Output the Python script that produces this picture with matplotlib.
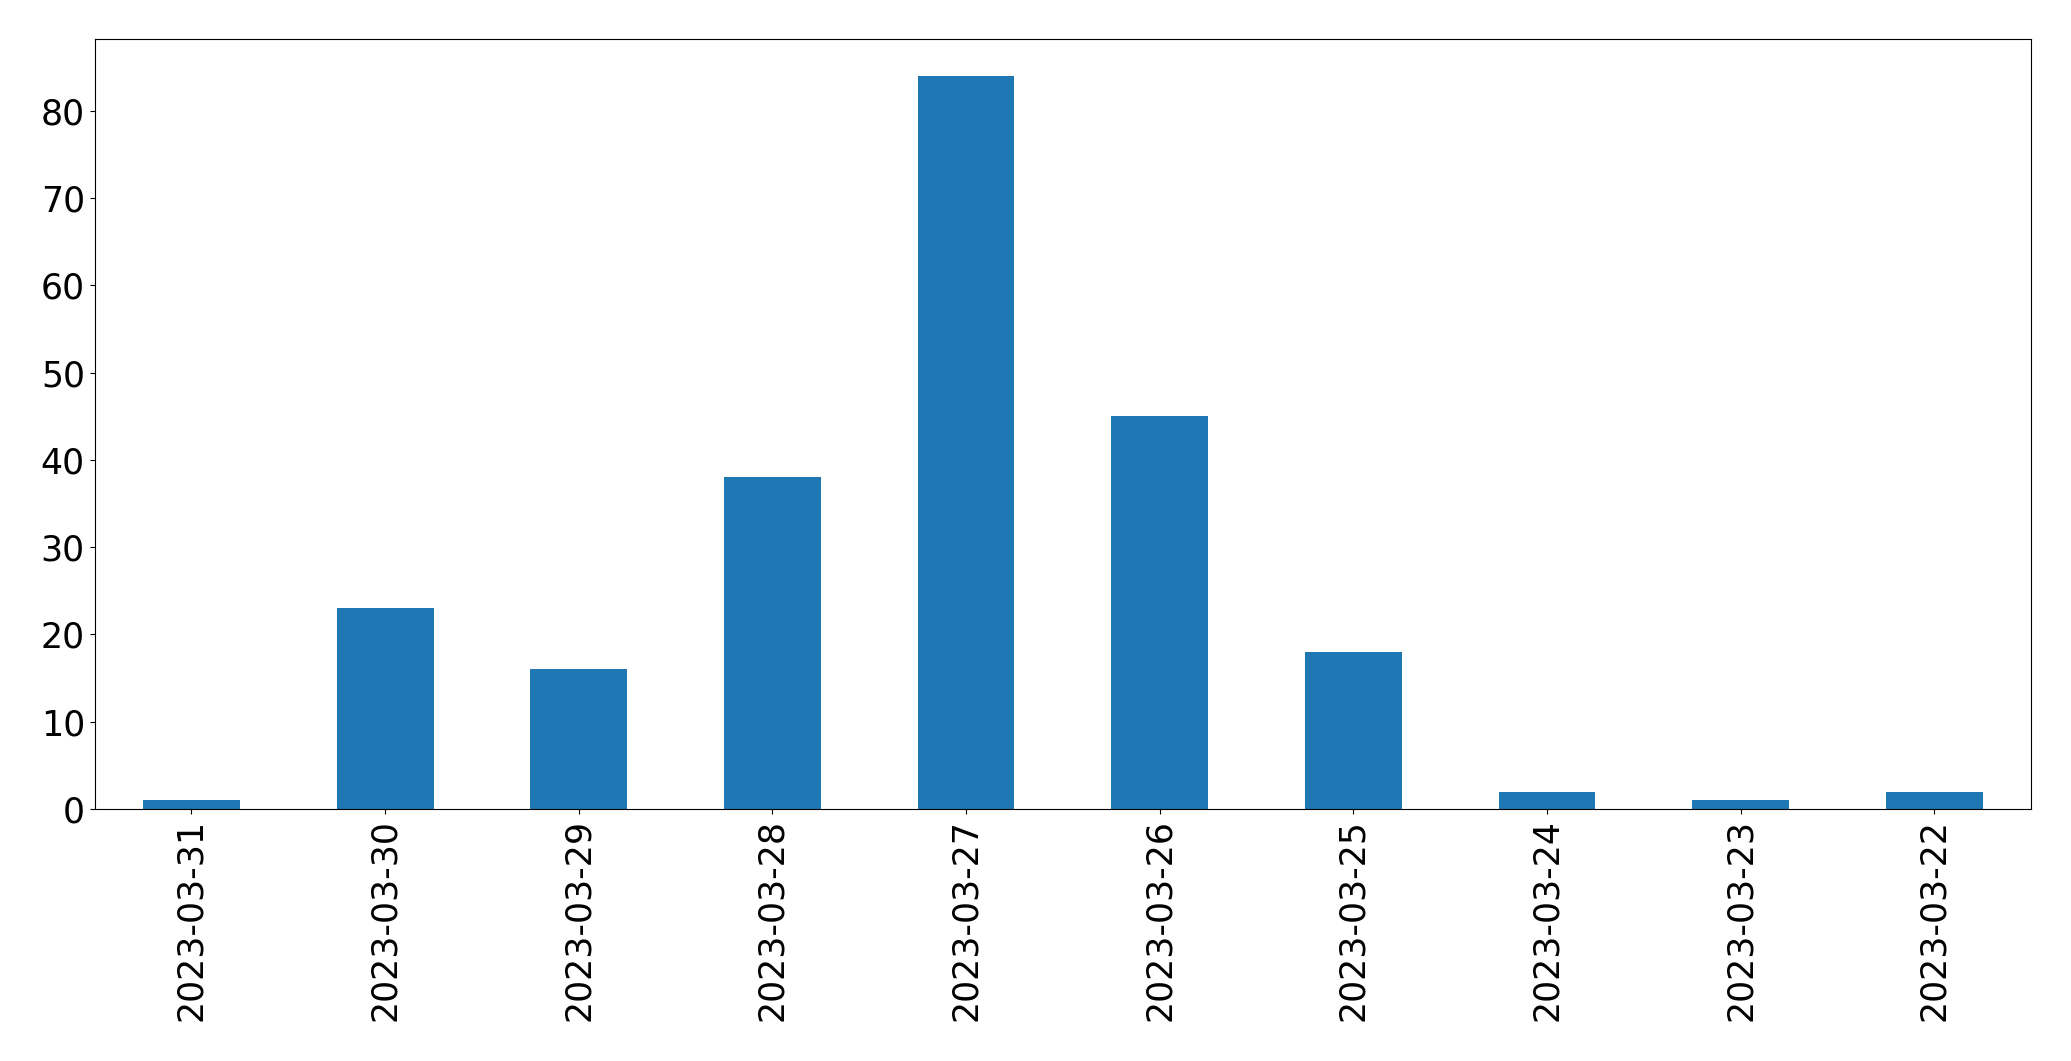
import matplotlib
matplotlib.use('Agg')
import matplotlib.pyplot as plt
import pandas as pd

dates = ['2023-03-31', '2023-03-30', '2023-03-29', '2023-03-28', '2023-03-27',
         '2023-03-26', '2023-03-25', '2023-03-24', '2023-03-23', '2023-03-22']
counts = [1, 23, 16, 38, 84, 45, 18, 2, 1, 2]

s = pd.Series(counts, index=dates)

fig = plt.figure(figsize=(20.71, 10.61), dpi=100)
ax = fig.add_axes([0.0457, 0.2375, 0.9350, 0.7257])
s.plot(kind='bar', ax=ax, color='#1f77b4')
ax.tick_params(axis='both', labelsize=25)
plt.savefig('out.png', dpi=100)
